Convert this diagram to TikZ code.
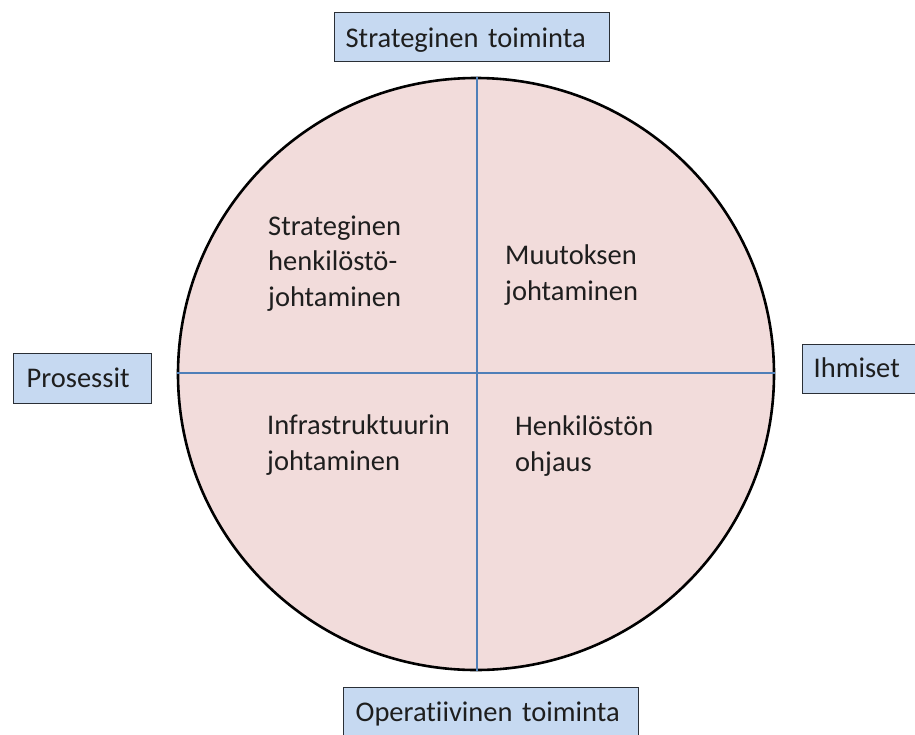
\documentclass[tikz,border=0pt]{standalone}
\usepackage{fontspec}
\setmainfont{Carlito}[Ligatures=NoCommon]
\usetikzlibrary{shapes.geometric}
\definecolor{tagfill}{HTML}{C6D9F1}
\definecolor{tagedge}{HTML}{2A2F36}
\definecolor{discfill}{HTML}{F2DCDB}
\definecolor{axiscol}{HTML}{4F7FB8}
\definecolor{inkcol}{HTML}{1E1E1E}
\tikzset{
  tag/.style={draw=tagedge, line width=1.3pt, fill=tagfill, anchor=north west,
    inner ysep=0pt, text depth=0pt, align=left, text=inkcol,
    font=\fontsize{28.5}{35.5}\selectfont},
  quad/.style={anchor=base west, align=left, inner sep=0pt, text=inkcol,
    font=\fontsize{28.5}{35.5}\selectfont},
  axis/.style={draw=axiscol, line width=1.3pt}
}
\begin{document}
\begin{tikzpicture}[x=1pt,y=-1pt]
  \useasboundingbox (0,0) rectangle (915,734);
  \clip (0,0) rectangle (915,734);
  % the disc and its two axes
  \node[draw=black, line width=2.6pt, fill=discfill, ellipse, inner sep=0pt,
        minimum width=596, minimum height=592] (disc) at (476,374) {};
  \coordinate (c) at (477,373);
  \draw[axis] (disc.north -| c) -- (disc.south -| c);
  \draw[axis] (disc.west |- c) -- (disc.east |- c);
  % quadrant labels (placed by the baseline of their last line)
  \node[quad] (q1) at (268,306) {Strateginen\\henkilöstö-\\johtaminen};
  \node[quad] (q2) at (505,300) {Muutoksen\\johtaminen};
  \node[quad] (q3) at (267,470) {Infrastruktuurin\\johtaminen};
  \node[quad] (q4) at (515,471) {Henkilöstön\\ohjaus};
  % axis end tags
  \node[tag, minimum height=49, inner xsep=11, text width=253, text height=21]
    (top) at (334,12) {Strateginen toiminta};
  \node[tag, minimum height=50, inner xsep=13, text width=112, text height=17.4]
    (left) at (13,353) {Prosessit};
  \node[tag, minimum height=49, inner xsep=11, text width=94, text height=16.4]
    (right) at (802,344) {Ihmiset};
  \node[tag, minimum height=49, inner xsep=12, text width=271, text height=19]
    (bottom) at (343,687) {Operatiivinen toiminta};
\end{tikzpicture}
\end{document}
